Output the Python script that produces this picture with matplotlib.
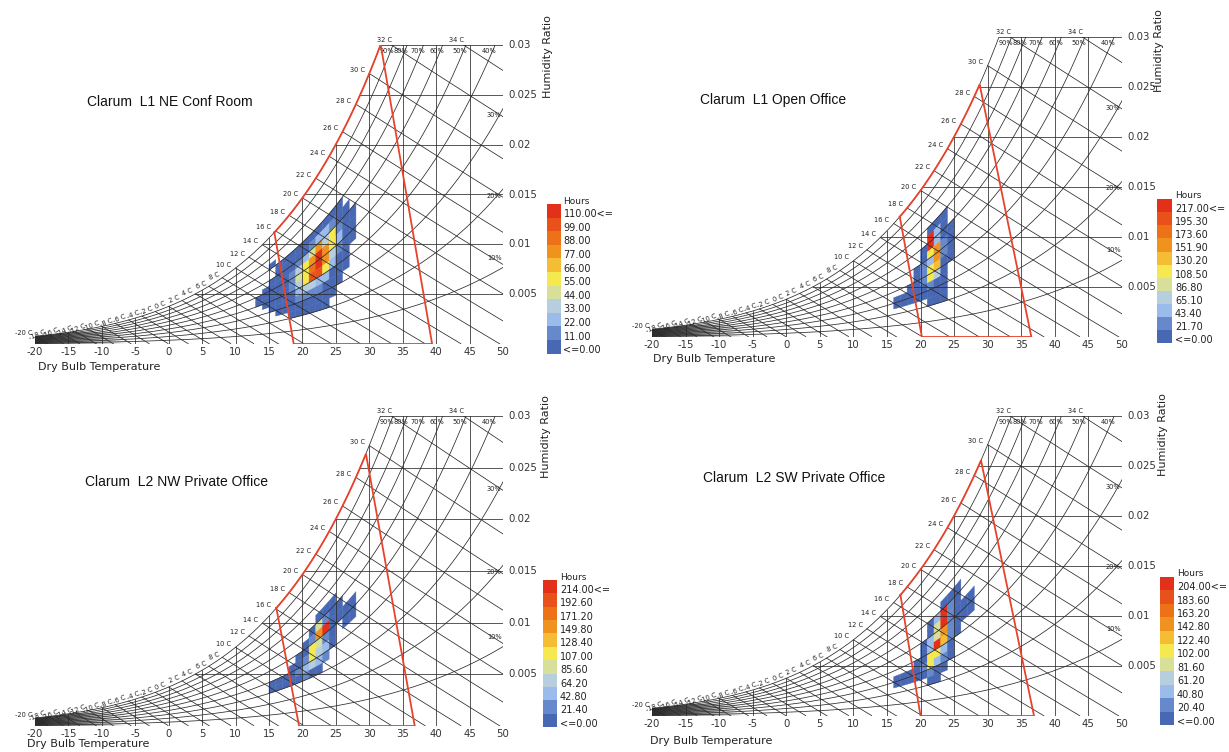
"""Four psychrometric charts with comfort zones and hourly binned conditions."""

import numpy as np
import matplotlib
matplotlib.use("Agg")
import matplotlib.pyplot as plt
from matplotlib.patches import Polygon, Rectangle

W_PX, H_PX = 1229, 752

# ---------------------------------------------------------------- data
titles = ["Clarum  L1 NE Conf Room", "Clarum  L1 Open Office",
          "Clarum  L2 NW Private Office", "Clarum  L2 SW Private Office"]
legend_max = [110.0, 217.0, 214.0, 204.0]

# comfort zone: (upper dbt on saturation, lower dbt on saturation, bottom-left dbt, bottom-right dbt)
comfort_p1 = [31.7, 15.8, 18.7, 39.4]
comfort_p2 = [28.8, 16.9, 20.2, 36.5]
comfort_p3 = [29.5, 16.1, 19.5, 36.8]
comfort_p4 = [29.0, 17.0, 20.0, 36.9]

# hours binned by dry bulb (1 C) and relative humidity (5 %)
# rows: highest RH bin first, columns: first dbt bin first
p1_t0, p1_rh0 = 13, 20
p1_hours = [
    [0, 0, 3, 0, 0, 0, 0, 0, 0, 0, 0, 0, 0, 0, 0],
    [0, 0, 0, 3, 3, 3, 3, 3, 3, 3, 3, 3, 3, 0, 0],
    [0, 0, 0, 3, 5, 5, 8, 8, 15, 25, 25, 15, 8, 3, 0],
    [0, 0, 3, 5, 8, 10, 15, 25, 45, 80, 40, 55, 15, 8, 3],
    [0, 3, 5, 8, 10, 15, 35, 60, 85, 110, 80, 60, 25, 8, 3],
    [3, 3, 5, 8, 10, 20, 45, 60, 95, 110, 85, 35, 15, 8, 3],
    [3, 3, 5, 8, 10, 15, 40, 55, 105, 105, 60, 25, 10, 5, 0],
    [0, 3, 5, 8, 8, 10, 25, 35, 35, 30, 25, 10, 8, 3, 0],
    [0, 0, 3, 5, 8, 8, 15, 15, 15, 15, 10, 8, 3, 0, 0],
    [0, 0, 0, 3, 5, 5, 8, 8, 8, 8, 8, 3, 0, 0, 0],
    [0, 0, 0, 0, 0, 3, 3, 5, 5, 5, 3, 0, 0, 0, 0],
]

p2_t0, p2_rh0 = 16, 20
p2_hours = [
    [0, 0, 0, 0, 0, 10, 10, 10, 0],
    [0, 0, 0, 0, 0, 217, 45, 10, 0],
    [0, 0, 0, 0, 10, 217, 45, 10, 10],
    [0, 0, 0, 0, 10, 110, 160, 25, 10],
    [0, 0, 0, 10, 25, 65, 160, 25, 10],
    [0, 0, 0, 10, 25, 130, 150, 10, 10],
    [0, 0, 10, 10, 25, 110, 85, 10, 0],
    [10, 10, 10, 10, 10, 25, 10, 10, 0],
    [10, 10, 10, 10, 10, 10, 10, 10, 0],
    [0, 0, 0, 0, 0, 10, 10, 10, 0],
]

p3_t0, p3_rh0 = 15, 30
p3_hours = [
    [0, 0, 0, 0, 0, 0, 0, 10, 10, 10, 0, 0, 0],
    [0, 0, 0, 0, 0, 0, 10, 90, 25, 10, 10, 0, 0],
    [0, 0, 0, 0, 0, 10, 25, 160, 214, 10, 10, 10, 10],
    [0, 0, 0, 0, 10, 10, 110, 90, 25, 10, 0, 10, 10],
    [0, 0, 0, 10, 10, 25, 110, 70, 45, 10, 0, 0, 0],
    [10, 10, 10, 10, 25, 45, 70, 45, 25, 0, 0, 0, 0],
    [10, 10, 10, 10, 10, 25, 10, 10, 0, 0, 0, 0, 0],
]

p4_t0, p4_rh0 = 16, 20
p4_hours = [
    [0, 0, 0, 0, 0, 0, 0, 10, 10, 10, 0, 0],
    [0, 0, 0, 0, 0, 10, 45, 205, 25, 10, 0, 0],
    [0, 0, 0, 0, 0, 10, 85, 205, 25, 10, 10, 10],
    [0, 0, 0, 0, 10, 45, 85, 150, 25, 10, 10, 10],
    [0, 0, 0, 0, 10, 45, 205, 130, 25, 10, 0, 0],
    [0, 0, 0, 10, 10, 110, 120, 45, 10, 0, 0, 0],
    [10, 10, 10, 10, 25, 105, 45, 25, 10, 0, 0, 0],
    [10, 10, 10, 10, 10, 25, 10, 10, 0, 0, 0, 0],
    [0, 0, 0, 0, 0, 10, 10, 0, 0, 0, 0, 0],
]

hour_colors = ["#4868b4", "#6689cc", "#9bbbea", "#b6cedd", "#d8df98", "#f6e84f",
               "#f5bd33", "#f0931e", "#ec7117", "#e8521a", "#e2301b"]

# ---------------------------------------------------------------- psychrometrics
P_ATM = 101325.0


def p_ws(t):
    return 610.94 * np.exp(17.625 * t / (t + 243.04))


def w_rh(t, rh):
    pw = rh * p_ws(t)
    return 0.622 * pw / (P_ATM - pw)


def w_wb(t, twb):
    ws = w_rh(twb, 1.0)
    return ((2501 - 2.326 * twb) * ws - 1.006 * (t - twb)) / (2501 + 1.86 * t - 4.186 * twb)


T = np.linspace(-20, 50, 1401)
WS = w_rh(T, 1.0)


def t_sat(w):
    return np.interp(w, WS, T)


LINE = dict(color="#2a2a2a", lw=0.55, zorder=2)
SMALL = dict(fontsize=4.8, color="#222222")
TICK = dict(fontsize=7.3, color="#333333")


def draw_panel(fig, box, title, t0, rh0, hours, vmax, zone, title_xy, hr_xy, dbt_xy, leg):
    l, t, r, b = box
    ax = fig.add_axes([l / W_PX, 1 - b / H_PX, (r - l) / W_PX, (b - t) / H_PX])
    ax.set_xlim(-20, 50)
    ax.set_ylim(0, 0.03)
    ax.axis("off")

    # binned hours
    step = vmax / 10.0
    hours = np.array(hours, dtype=float)
    nrow = hours.shape[0]
    for i in range(nrow):
        rlo = (rh0 + 5 * (nrow - 1 - i)) / 100.0
        rhi = rlo + 0.05
        for j in range(hours.shape[1]):
            v = hours[i, j]
            if v <= 0:
                continue
            ta, tb = t0 + j, t0 + j + 1
            tt = np.linspace(ta, tb, 6)
            xs = np.concatenate([tt, tt[::-1]])
            ys = np.concatenate([w_rh(tt, rlo), w_rh(tt[::-1], rhi)])
            k = min(10, int(v / step))
            ax.add_patch(Polygon(np.column_stack([xs, ys]), closed=True,
                                 facecolor=hour_colors[k], edgecolor=hour_colors[k],
                                 lw=0.3, zorder=1))

    # saturation + rh curves
    for rh in [1.0, 0.9, 0.8, 0.7, 0.6, 0.5, 0.4, 0.3, 0.2, 0.1]:
        w = w_rh(T, rh)
        m = w <= 0.03
        ax.plot(T[m], w[m], **LINE)
    # dry bulb lines
    for tv in range(-20, 55, 5):
        ax.plot([tv, tv], [0, min(0.03, w_rh(tv, 1.0))], **LINE)
    # humidity ratio lines
    for wv in [0.005, 0.01, 0.015, 0.02, 0.025, 0.03]:
        ax.plot([t_sat(wv), 50.4], [wv, wv], **LINE)
    ax.plot([-20, 50], [0, 0], **LINE)
    ax.plot([50, 50], [0, 0.03], **LINE)

    # wet bulb lines
    for twb in range(-20, 36, 2):
        tt = np.linspace(twb, 50, 400)
        ww = w_wb(tt, twb)
        m = (ww >= 0) & (ww <= 0.03)
        ax.plot(tt[m], ww[m], **LINE)
        lab = "%d C" % twb
        if w_rh(twb, 1.0) > 0.03:
            ts = tt[m][0]
            ax.annotate(lab, (ts, 0.03), xytext=(-5, 1.5), textcoords="offset points",
                        ha="center", va="bottom", **SMALL)
        elif twb >= 10:
            ax.annotate(lab, (twb, w_rh(twb, 1.0)), xytext=(-3, 2.5), textcoords="offset points",
                        ha="right", va="center", **SMALL)
        else:
            ax.annotate(lab, (twb, w_rh(twb, 1.0)), xytext=(-2, 2.5), textcoords="offset points",
                        ha="right", va="center", rotation=0 if twb == -20 else 22,
                        rotation_mode="anchor", **SMALL)

    # bottom-left shading where the lines converge
    grad = np.linspace(0, 1, 200)[None, :]
    im = ax.imshow(grad, extent=[-20, -6, 0, 0.0012], aspect="auto", cmap="gray",
                   vmin=0.05, vmax=1.0, alpha=0.75, zorder=1.5)
    tc = np.linspace(-20, -6, 60)
    clip = Polygon(np.column_stack([np.r_[tc, -6, -20], np.r_[w_rh(tc, 1.0), 0, 0]]),
                   closed=True, transform=ax.transData)
    im.set_clip_path(clip)

    # rh labels
    for rh in [90, 80, 70, 60, 50, 40]:
        tc_ = np.interp(0.03, w_rh(T, rh / 100.0), T)
        ax.annotate("%d%%" % rh, (tc_, 0.03), xytext=(1, -2.5), textcoords="offset points",
                    ha="right", va="top", **SMALL)
    for rh, dy in [(30, -5), (20, -5), (10, 7)]:
        ax.annotate("%d%%" % rh, (50, w_rh(50, rh / 100.0)), xytext=(-1, dy),
                    textcoords="offset points", ha="right", va="center", **SMALL)

    # comfort zone
    tu, tl, tbl, tbr = zone
    ts = np.linspace(tl, tu, 80)
    zx = np.r_[ts, tbr, tbl, tl]
    zy = np.r_[w_rh(ts, 1.0), 0, 0, w_rh(tl, 1.0)]
    ax.plot(zx, zy, color="#e8432a", lw=1.3, zorder=3, solid_joinstyle="miter")

    # ticks
    for tv in range(-20, 55, 5):
        ax.annotate(str(tv), (tv, 0), xytext=(0, -6), textcoords="offset points",
                    ha="center", va="center", **TICK)
    for wv, s in [(0.005, "0.005"), (0.01, "0.01"), (0.015, "0.015"),
                  (0.02, "0.02"), (0.025, "0.025"), (0.03, "0.03")]:
        ax.annotate(s, (50, wv), xytext=(4, 0), textcoords="offset points",
                    ha="left", va="center", **TICK)

    fig.text(title_xy[0] / W_PX, 1 - title_xy[1] / H_PX, title, fontsize=10,
             family="Liberation Sans", color="#111111", ha="left", va="center")
    fig.text(hr_xy[0] / W_PX, 1 - hr_xy[1] / H_PX, "Humidity Ratio", rotation=90,
             fontsize=8, color="#222222", ha="center", va="bottom")
    fig.text(dbt_xy[0] / W_PX, 1 - dbt_xy[1] / H_PX, "Dry Bulb Temperature",
             fontsize=8, color="#222222", ha="left", va="center")

    # legend
    x0, x1, ytop, ybot, xl = leg
    bh = (ybot - ytop) / 11.0
    for k in range(11):
        yb = ybot - (k + 1) * bh
        fig.patches.append(Rectangle((x0 / W_PX, 1 - (yb + bh) / H_PX), (x1 - x0) / W_PX,
                                     bh / H_PX, transform=fig.transFigure,
                                     facecolor=hour_colors[k], edgecolor="none"))
    fig.text(xl / W_PX, 1 - (ytop - 3) / H_PX, "Hours", fontsize=6.5, color="#222222",
             ha="left", va="center")
    for k in range(11):
        val = k * step
        if k == 10:
            s = "%.2f<=" % val
        elif k == 0:
            s = "<=0.00"
        else:
            s = "%.2f" % val
        yc = ytop + (10 - k + 0.75) * bh
        fig.text(xl / W_PX, 1 - yc / H_PX, s, fontsize=7, color="#222222",
                 ha="left", va="center")
    return ax


fig = plt.figure(figsize=(W_PX / 100, H_PX / 100), dpi=100)

draw_panel(fig, (35, 45, 503, 344), titles[0], p1_t0, p1_rh0, p1_hours, legend_max[0],
           comfort_p1, (87, 102), (548, 98), (38, 367), (547, 561, 204, 353.5, 563.5))
draw_panel(fig, (652, 37, 1122, 337), titles[1], p2_t0, p2_rh0, p2_hours, legend_max[1],
           comfort_p2, (700, 100), (1159, 92), (653, 359), (1157, 1172, 199, 343.5, 1175))
draw_panel(fig, (35, 416, 503, 726), titles[2], p3_t0, p3_rh0, p3_hours, legend_max[2],
           comfort_p3, (85, 482), (546, 478), (27, 744), (543, 557, 580, 727, 560))
draw_panel(fig, (652, 416, 1122, 716), titles[3], p4_t0, p4_rh0, p4_hours, legend_max[3],
           comfort_p4, (703, 478), (1163, 476), (650, 741), (1160, 1174, 577, 725, 1177))

fig.savefig("out.png", dpi=100)
